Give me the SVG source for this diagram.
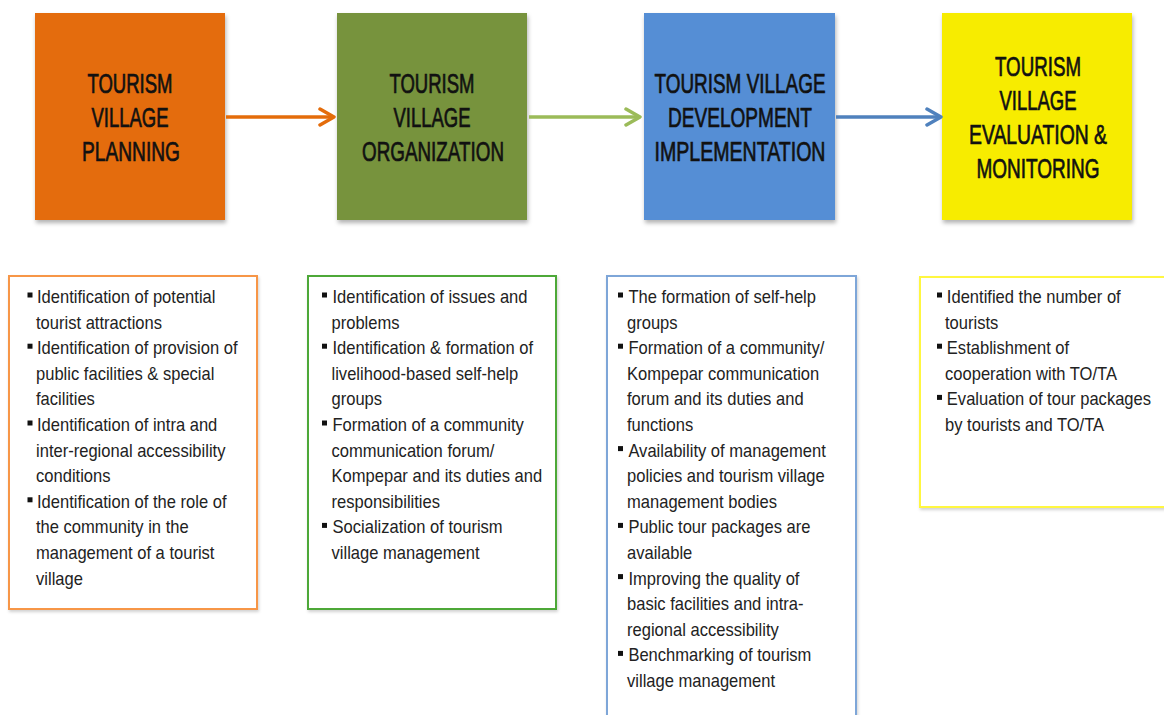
<svg xmlns="http://www.w3.org/2000/svg" width="1164" height="715" viewBox="0 0 1164 715">
  <defs>
    <filter id="shadow" x="-10%" y="-10%" width="125%" height="125%">
      <feDropShadow dx="1" dy="3" stdDeviation="2" flood-color="#000" flood-opacity="0.3"/>
    </filter>
    <filter id="softShadow" x="-5%" y="-5%" width="115%" height="115%">
      <feDropShadow dx="1" dy="2" stdDeviation="1.5" flood-color="#000" flood-opacity="0.18"/>
    </filter>
    <marker id="headOrange" markerUnits="userSpaceOnUse" viewBox="-16 -10 18 20" refX="0" refY="0" markerWidth="18" markerHeight="20" orient="auto">
      <path d="M-14,-8 L0,0 L-14,8" fill="none" stroke="#E46C0A" stroke-width="3.5" stroke-linecap="round" stroke-linejoin="round"/>
    </marker>
    <marker id="headGreen" markerUnits="userSpaceOnUse" viewBox="-16 -10 18 20" refX="0" refY="0" markerWidth="18" markerHeight="20" orient="auto">
      <path d="M-14,-8 L0,0 L-14,8" fill="none" stroke="#9BBB59" stroke-width="3.5" stroke-linecap="round" stroke-linejoin="round"/>
    </marker>
    <marker id="headBlue" markerUnits="userSpaceOnUse" viewBox="-16 -10 18 20" refX="0" refY="0" markerWidth="18" markerHeight="20" orient="auto">
      <path d="M-14,-8 L0,0 L-14,8" fill="none" stroke="#4F81BD" stroke-width="3.5" stroke-linecap="round" stroke-linejoin="round"/>
    </marker>
  </defs>
  <style>
    .stage { filter: url(#shadow); }
    .title { font-family: "Liberation Sans", Arial, sans-serif; font-size: 27px; fill: #111; stroke: #111; stroke-width: 0.7; text-anchor: middle; }
    .panel { fill: #fff; stroke-width: 2; filter: url(#softShadow); }
    .item { font-family: "Liberation Sans", Arial, sans-serif; font-size: 18px; fill: #222; }
    .bullet { fill: #111; }
    .conn { fill: none; stroke-width: 3.5; }
  </style>
  <rect width="1164" height="715" fill="#fff"/>

  <!-- stage boxes -->
  <g id="planning">
    <rect class="stage" x="35" y="13" width="190" height="207" fill="#E46C0A"/>
    <text class="title" x="130" y="93" textLength="85" lengthAdjust="spacingAndGlyphs">TOURISM</text>
    <text class="title" x="130" y="127" textLength="77" lengthAdjust="spacingAndGlyphs">VILLAGE</text>
    <text class="title" x="131" y="161" textLength="98" lengthAdjust="spacingAndGlyphs">PLANNING</text>
  </g>
  <g id="organization">
    <rect class="stage" x="337" y="13" width="190" height="207" fill="#77933C"/>
    <text class="title" x="432" y="93" textLength="85" lengthAdjust="spacingAndGlyphs">TOURISM</text>
    <text class="title" x="432" y="127" textLength="77" lengthAdjust="spacingAndGlyphs">VILLAGE</text>
    <text class="title" x="433" y="161" textLength="142" lengthAdjust="spacingAndGlyphs">ORGANIZATION</text>
  </g>
  <g id="implementation">
    <rect class="stage" x="644" y="13" width="191" height="207" fill="#558ED5"/>
    <text class="title" x="740" y="93" textLength="171" lengthAdjust="spacingAndGlyphs">TOURISM VILLAGE</text>
    <text class="title" x="740" y="127" textLength="144" lengthAdjust="spacingAndGlyphs">DEVELOPMENT</text>
    <text class="title" x="740" y="161" textLength="171" lengthAdjust="spacingAndGlyphs">IMPLEMENTATION</text>
  </g>
  <g id="evaluation">
    <rect class="stage" x="942" y="13" width="190" height="207" fill="#F7EC00"/>
    <text class="title" x="1038" y="76" textLength="86" lengthAdjust="spacingAndGlyphs">TOURISM</text>
    <text class="title" x="1038" y="110" textLength="77" lengthAdjust="spacingAndGlyphs">VILLAGE</text>
    <text class="title" x="1038" y="144" textLength="138" lengthAdjust="spacingAndGlyphs">EVALUATION &amp;</text>
    <text class="title" x="1038" y="178" textLength="123" lengthAdjust="spacingAndGlyphs">MONITORING</text>
  </g>

  <!-- connectors between stages -->
  <g id="connectors">
    <line class="conn" x1="226" y1="117" x2="334" y2="117" stroke="#E46C0A" marker-end="url(#headOrange)"/>
    <line class="conn" x1="529" y1="117" x2="640" y2="117" stroke="#9BBB59" marker-end="url(#headGreen)"/>
    <line class="conn" x1="836" y1="117" x2="941" y2="117" stroke="#4F81BD" marker-end="url(#headBlue)"/>
  </g>

  <!-- planning activities -->
  <g id="planning-list">
    <rect class="panel" x="9" y="276" width="248" height="333" stroke="#F79646"/>
    <g class="bullet">
      <rect x="27.5" y="292.5" width="5" height="5"/>
      <rect x="27.5" y="343.7" width="5" height="5"/>
      <rect x="27.5" y="420.5" width="5" height="5"/>
      <rect x="27.5" y="497.3" width="5" height="5"/>
    </g>
    <g transform="translate(36,0) scale(0.92,1)">
      <text class="item" x="1.1" y="303">Identification of potential</text>
      <text class="item" x="0" y="328.6">tourist attractions</text>
      <text class="item" x="1.1" y="354.2">Identification of provision of</text>
      <text class="item" x="0" y="379.8">public facilities &amp; special</text>
      <text class="item" x="0" y="405.4">facilities</text>
      <text class="item" x="1.1" y="431">Identification of intra and</text>
      <text class="item" x="0" y="456.6">inter-regional accessibility</text>
      <text class="item" x="0" y="482.2">conditions</text>
      <text class="item" x="1.1" y="507.8">Identification of the role of</text>
      <text class="item" x="0" y="533.4">the community in the</text>
      <text class="item" x="0" y="559">management of a tourist</text>
      <text class="item" x="0" y="584.6">village</text>
    </g>
  </g>

  <!-- organization activities -->
  <g id="organization-list">
    <rect class="panel" x="308" y="276" width="248" height="333" stroke="#4EA838"/>
    <g class="bullet">
      <rect x="322" y="292.5" width="5" height="5"/>
      <rect x="322" y="343.7" width="5" height="5"/>
      <rect x="322" y="420.5" width="5" height="5"/>
      <rect x="322" y="522.9" width="5" height="5"/>
    </g>
    <g transform="translate(331.5,0) scale(0.92,1)">
      <text class="item" x="1.1" y="303">Identification of issues and</text>
      <text class="item" x="0" y="328.6">problems</text>
      <text class="item" x="1.1" y="354.2">Identification &amp; formation of</text>
      <text class="item" x="0" y="379.8">livelihood-based self-help</text>
      <text class="item" x="0" y="405.4">groups</text>
      <text class="item" x="1.1" y="431">Formation of a community</text>
      <text class="item" x="0" y="456.6">communication forum/</text>
      <text class="item" x="0" y="482.2">Kompepar and its duties and</text>
      <text class="item" x="0" y="507.8">responsibilities</text>
      <text class="item" x="1.1" y="533.4">Socialization of tourism</text>
      <text class="item" x="0" y="559">village management</text>
    </g>
  </g>

  <!-- implementation activities -->
  <g id="implementation-list">
    <rect class="panel" x="607" y="276" width="249" height="460" stroke="#7EA6D8"/>
    <g class="bullet">
      <rect x="618" y="292.5" width="5" height="5"/>
      <rect x="618" y="343.7" width="5" height="5"/>
      <rect x="618" y="446.1" width="5" height="5"/>
      <rect x="618" y="522.9" width="5" height="5"/>
      <rect x="618" y="574.1" width="5" height="5"/>
      <rect x="618" y="650.9" width="5" height="5"/>
    </g>
    <g transform="translate(627,0) scale(0.92,1)">
      <text class="item" x="1.5" y="303">The formation of self-help</text>
      <text class="item" x="0" y="328.6">groups</text>
      <text class="item" x="1.5" y="354.2">Formation of a community/</text>
      <text class="item" x="0" y="379.8">Kompepar communication</text>
      <text class="item" x="0" y="405.4">forum and its duties and</text>
      <text class="item" x="0" y="431">functions</text>
      <text class="item" x="1.5" y="456.6">Availability of management</text>
      <text class="item" x="0" y="482.2">policies and tourism village</text>
      <text class="item" x="0" y="507.8">management bodies</text>
      <text class="item" x="1.5" y="533.4">Public tour packages are</text>
      <text class="item" x="0" y="559">available</text>
      <text class="item" x="1.5" y="584.6">Improving the quality of</text>
      <text class="item" x="0" y="610.2">basic facilities and intra-</text>
      <text class="item" x="0" y="635.8">regional accessibility</text>
      <text class="item" x="1.5" y="661.4">Benchmarking of tourism</text>
      <text class="item" x="0" y="687">village management</text>
    </g>
  </g>

  <!-- evaluation activities -->
  <g id="evaluation-list">
    <rect class="panel" x="920" y="277" width="260" height="230" stroke="#FFF740"/>
    <g class="bullet">
      <rect x="937" y="292.5" width="5" height="5"/>
      <rect x="937" y="343.7" width="5" height="5"/>
      <rect x="937" y="394.9" width="5" height="5"/>
    </g>
    <g transform="translate(945,0) scale(0.92,1)">
      <text class="item" x="2" y="303">Identified the number of</text>
      <text class="item" x="0" y="328.6">tourists</text>
      <text class="item" x="2" y="354.2">Establishment of</text>
      <text class="item" x="0" y="379.8">cooperation with TO/TA</text>
      <text class="item" x="2" y="405.4">Evaluation of tour packages</text>
      <text class="item" x="0" y="431">by tourists and TO/TA</text>
    </g>
  </g>
</svg>
